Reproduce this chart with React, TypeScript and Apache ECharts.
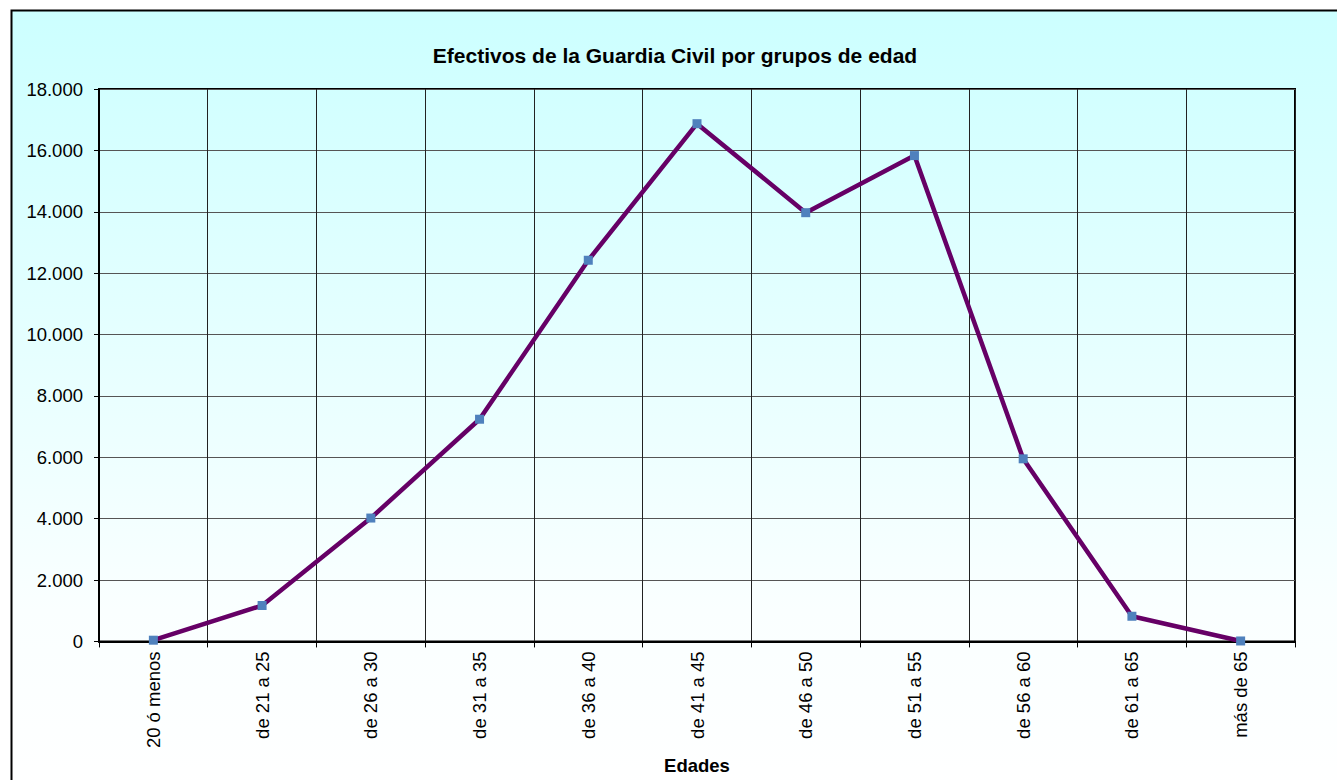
import React, { useEffect, useRef } from "react";
import * as echarts from "echarts";

const categories = [
  "20 ó menos",
  "de 21 a 25",
  "de 26 a 30",
  "de 31 a 35",
  "de 36 a 40",
  "de 41 a 45",
  "de 46 a 50",
  "de 51 a 55",
  "de 56 a 60",
  "de 61 a 65",
  "más de 65",
];
const effectives = [40, 1170, 4020, 7240, 12420, 16870, 13970, 15830, 5950, 820, 15];
const chartTitle = "Efectivos de la Guardia Civil por grupos de edad";
const xAxisName = "Edades";

const fmt = (v: number) => String(v).replace(/\B(?=(\d{3})+(?!\d))/g, ".");

export default function App() {
  const ref = useRef<HTMLDivElement>(null);
  useEffect(() => {
    if (!ref.current) return;
    const chart = echarts.init(ref.current, null, { renderer: "svg" });
    const font = "Liberation Sans, Arial, sans-serif";
    chart.setOption({
      animation: false,
      backgroundColor: "#ffffff",
      textStyle: { fontFamily: font },
      graphic: [
        {
          type: "rect",
          z: -10,
          silent: true,
          shape: { x: 11.5, y: 10.5, width: 1340, height: 800 },
          style: {
            fill: new echarts.graphic.LinearGradient(0, 0, 0, 1, [
              { offset: 0, color: "#CCFFFF" },
              { offset: 0.75, color: "#FAFFFF" },
              { offset: 1, color: "#FFFFFF" },
            ]),
            stroke: "#000000",
            lineWidth: 2,
          },
        },
        {
          type: "text",
          x: 675,
          y: 45,
          z: 10,
          style: {
            text: chartTitle,
            textAlign: "center",
            fontFamily: font,
            fontWeight: "bold",
            fontSize: 21,
            fill: "#000000",
          },
        },
      ],
      grid: {
        left: 99,
        top: 89,
        right: 42,
        bottom: 135,
        show: true,
        borderColor: "#000000",
        borderWidth: 2,
        backgroundColor: "transparent",
        containLabel: false,
      },
      xAxis: {
        type: "category",
        data: categories,
        boundaryGap: true,
        name: xAxisName,
        nameLocation: "middle",
        nameGap: 108,
        nameTextStyle: { fontFamily: font, fontWeight: "bold", fontSize: 18.5, color: "#000" },
        axisLine: { lineStyle: { color: "#000", width: 2 } },
        axisTick: { show: true, alignWithLabel: false, length: 6, lineStyle: { color: "#000", width: 1 } },
        axisLabel: {
          rotate: 90,
          interval: 0,
          margin: 10,
          fontFamily: font,
          fontSize: 18.5,
          color: "#000",
        },
        splitLine: { show: true, interval: 0, lineStyle: { color: "#222", width: 1 } },
      },
      yAxis: {
        type: "value",
        min: 0,
        max: 18000,
        interval: 2000,
        axisLine: { show: true, lineStyle: { color: "#000", width: 2 } },
        axisTick: { show: true, length: 5, lineStyle: { color: "#000", width: 1 } },
        axisLabel: {
          formatter: (v: number) => fmt(v),
          fontFamily: font,
          fontSize: 18.5,
          color: "#000",
          margin: 16,
        },
        splitLine: { show: true, lineStyle: { color: "#555", width: 1 } },
      },
      series: [
        {
          type: "line",
          data: effectives,
          symbol: "rect",
          symbolSize: 9,
          lineStyle: { color: "#660066", width: 4.5 },
          itemStyle: { color: "#4F81BD", borderWidth: 0 },
          z: 5,
        },
      ],
    });
    return () => chart.dispose();
  }, []);
  return (
    <div
      ref={ref}
      style={{ position: "fixed", left: 0, top: 0, width: 1337, height: 780 }}
    />
  );
}
